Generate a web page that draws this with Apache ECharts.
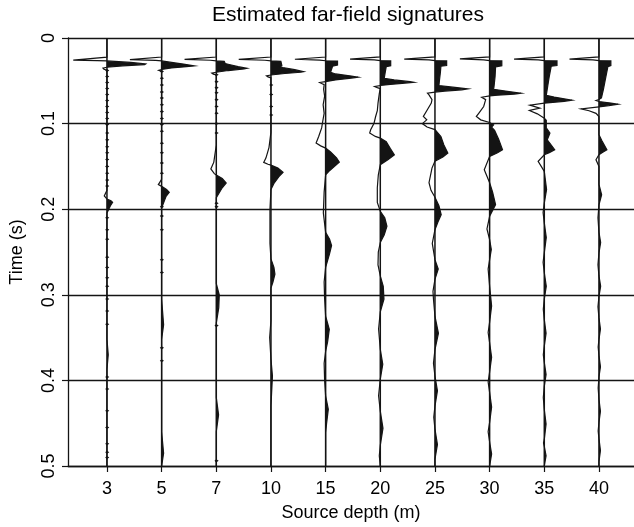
<!DOCTYPE html>
<html><head><meta charset="utf-8">
<script src="https://cdn.jsdelivr.net/npm/echarts@6/dist/echarts.min.js"></script>
<style>html,body{margin:0;padding:0;background:#fff}#c{width:634px;height:527px}</style>
</head><body><div id="c"></div>
<script>
// Source depths (m) -> trace labels
const depthLabels = ['3','5','7','10','15','20','25','30','35','40'];
// Time tick labels (s)
const timeTickLabels = ['0','0.1','0.2','0.3','0.4','0.5'];

// Far-field signatures: [time (s), relative amplitude]
const sig3 = [[0,0],[0.0223,0],[0.0258,-34],[0.0264,-10],[0.0268,0],[0.0285,24],[0.0303,39],[0.0310,38],[0.0325,16],[0.0342,0],[0.0352,-4],[0.0365,-3],[0.0375,0],[0.178,0],[0.1845,-2.7],[0.188,0],[0.190,4],[0.192,5.7],[0.196,3.5],[0.2043,0],[0.352,0],[0.370,1.3],[0.387,0],[0.5,0]];
const sig5 = [[0,0],[0.0222,0],[0.0252,-32],[0.0262,-6],[0.0268,0],[0.0285,10],[0.0305,22],[0.0326,33],[0.0335,25],[0.0350,10],[0.0368,0],[0.0378,-3],[0.0392,0],[0.1650,0],[0.1713,-3.3],[0.1733,0],[0.1770,5],[0.1803,7.7],[0.1850,4.5],[0.1985,0],[0.305,0],[0.335,2],[0.352,0],[0.460,0],[0.485,2],[0.5,0]];
const sig7 = [[0,0],[0.0222,0],[0.0250,-32],[0.0260,-6],[0.0268,0],[0.0272,8],[0.0298,9],[0.0310,13],[0.0335,22],[0.0355,31],[0.0362,28],[0.0380,12],[0.0400,0],[0.0410,-4.5],[0.0422,-3],[0.0432,0],[0.125,0],[0.145,-2.5],[0.153,-5.5],[0.1585,-2],[0.1600,0],[0.1640,6],[0.1694,10],[0.1750,6],[0.1866,0],[0.287,0],[0.300,3],[0.315,2.5],[0.333,0],[0.420,0],[0.440,2.3],[0.460,0],[0.5,0]];
const sig10 = [[0,0],[0.0222,0],[0.0250,-32.5],[0.0260,-6],[0.0268,0],[0.0272,10],[0.0320,11],[0.0334,9],[0.0345,12],[0.0370,24],[0.0393,33],[0.0400,30],[0.0415,14],[0.0432,0],[0.0443,-4.5],[0.0455,-3],[0.0465,0],[0.110,0],[0.128,-2],[0.140,-5],[0.1453,-7.3],[0.1475,-3],[0.1485,0],[0.1520,7],[0.1570,12.2],[0.1620,8],[0.1700,3],[0.1770,0],[0.200,-1],[0.240,-1],[0.258,0],[0.268,3],[0.276,4],[0.285,2],[0.292,0],[0.330,0],[0.350,-1.3],[0.375,0],[0.395,1.5],[0.430,0],[0.5,0]];
const sig15 = [[0,0],[0.0222,0],[0.0248,-31],[0.0258,-6],[0.0266,0],[0.0270,12],[0.0315,12],[0.0330,7],[0.0400,5],[0.0420,10],[0.0445,26],[0.0458,32.7],[0.0468,26],[0.0490,10],[0.0509,0],[0.0520,-6],[0.0532,-4],[0.0545,-1.5],[0.060,-2],[0.068,-1],[0.078,-2.5],[0.088,-1.5],[0.098,-3],[0.105,-4],[0.115,-7],[0.1228,-9.6],[0.1260,-5],[0.1286,0],[0.1330,5],[0.1400,11],[0.1449,13.8],[0.1500,9],[0.1560,3],[0.1600,0],[0.180,-1.5],[0.2044,-2.3],[0.227,0],[0.235,4],[0.2424,6],[0.252,4],[0.268,0],[0.285,-1.5],[0.305,-1],[0.325,0],[0.3403,3.7],[0.355,2],[0.366,0],[0.380,-1.5],[0.400,-1],[0.418,0],[0.4336,2.7],[0.450,1],[0.461,0],[0.5,0]];
const sig20 = [[0,0],[0.0220,0],[0.0246,-30.5],[0.0256,-6],[0.0264,0],[0.0268,10.5],[0.0325,10.5],[0.0335,6],[0.0400,5],[0.0470,4],[0.0490,14],[0.0510,30],[0.0517,33.7],[0.0527,25],[0.0542,10],[0.0555,0],[0.0567,-5.7],[0.0580,-3],[0.0592,0],[0.0650,-1],[0.0761,-2.3],[0.0850,-3],[0.0917,-4.7],[0.0995,-6.3],[0.1072,-9.7],[0.1110,-10.7],[0.1150,-5],[0.1170,0],[0.1210,6],[0.1290,10],[0.1364,14.2],[0.1420,8],[0.1480,0],[0.1600,-2],[0.1750,-3],[0.1920,-3],[0.2025,0],[0.2100,4.5],[0.2199,6.7],[0.2300,4],[0.2390,0],[0.2500,-2],[0.2650,-2.3],[0.2780,0],[0.2900,3],[0.3050,3.7],[0.3200,0],[0.3400,-1.7],[0.3636,0],[0.3810,2.5],[0.3986,0],[0.4180,-1.7],[0.4360,0],[0.4560,2.7],[0.4760,0],[0.4880,-1],[0.5,0]];
const sig25 = [[0,0],[0.0220,0],[0.0246,-31],[0.0256,-6],[0.0264,0],[0.0268,11.8],[0.0322,11.8],[0.0330,6],[0.0400,5.5],[0.0500,4.5],[0.0555,4],[0.0575,18],[0.0594,33],[0.0605,27],[0.0620,10],[0.0632,0],[0.0645,-7.5],[0.0664,-6],[0.0720,-3],[0.0761,-3.7],[0.0839,-7.7],[0.0917,-11.7],[0.0956,-8.3],[0.1000,-12.7],[0.1040,-8],[0.1070,0],[0.1150,6],[0.1250,9],[0.1344,13],[0.1390,8],[0.1438,0],[0.1520,-3],[0.1690,-6],[0.1780,-4],[0.1860,0],[0.1960,4],[0.2063,6.3],[0.2150,3],[0.2240,0],[0.2400,-2.7],[0.2590,0],[0.2700,3.3],[0.2820,0],[0.2960,-2],[0.3050,-1.5],[0.3250,0],[0.3450,3.5],[0.3640,0],[0.3800,-1.5],[0.3950,0],[0.4120,2.5],[0.4300,0],[0.4430,-1.2],[0.4570,0],[0.4750,2.5],[0.4920,0],[0.5,0]];
const sig30 = [[0,0],[0.0220,0],[0.0245,-30],[0.0256,-6],[0.0264,0],[0.0268,12.3],[0.0325,12.3],[0.0338,6],[0.0450,5.5],[0.0560,4.5],[0.0600,4],[0.0620,16],[0.0645,31.6],[0.0655,25],[0.0668,8],[0.0676,0],[0.0692,-8],[0.0720,-4],[0.0800,-6],[0.0880,-11],[0.0917,-13.4],[0.0956,-9],[0.0987,0],[0.1014,4],[0.1040,2],[0.1080,5],[0.1180,9],[0.1305,13],[0.1340,8],[0.1383,0],[0.1538,-5.4],[0.1690,0],[0.1800,3],[0.1946,6],[0.2083,0],[0.2230,-2.7],[0.2354,0],[0.2470,1.7],[0.2590,0],[0.2700,-1.5],[0.2900,0],[0.3130,2],[0.3320,0],[0.3440,-1.5],[0.3560,0],[0.3730,2],[0.3900,0],[0.4020,-1.5],[0.4140,0],[0.4310,2],[0.4490,0],[0.4600,-1.5],[0.4720,0],[0.4860,2],[0.5,0]];
const sig35 = [[0,0],[0.0220,0],[0.0246,-30.5],[0.0256,-6],[0.0264,0],[0.0268,12.8],[0.0322,12.8],[0.0330,7],[0.0450,5],[0.0560,3.5],[0.0670,2],[0.0690,10],[0.0726,28],[0.0740,20],[0.0761,0],[0.0785,-14.5],[0.0820,-4.5],[0.0847,-15],[0.0886,-7],[0.0936,0],[0.0960,2],[0.1050,2],[0.1110,5.7],[0.1189,3],[0.1250,7],[0.1305,10.5],[0.1340,5],[0.1364,0],[0.1442,-6.2],[0.1520,-2],[0.1560,0],[0.1770,2.3],[0.1930,0],[0.2040,-1.2],[0.2160,0],[0.2330,2],[0.2510,0],[0.2620,-1.2],[0.2740,0],[0.2900,2],[0.3050,0],[0.3170,-1],[0.3290,0],[0.3450,1.8],[0.3600,0],[0.3700,-1],[0.3790,0],[0.3930,1.8],[0.4070,0],[0.4200,-1],[0.4340,0],[0.4510,1.8],[0.4690,0],[0.4730,-0.8],[0.4770,0],[0.4880,1.8],[0.5,0]];
const sig40 = [[0,0],[0.0220,0],[0.0246,-29.7],[0.0256,-6],[0.0264,0],[0.0268,12],[0.0322,12],[0.0335,9],[0.0450,7],[0.0600,4.5],[0.0700,2.5],[0.0718,0],[0.0730,-3],[0.0742,0],[0.0760,12],[0.0773,19.3],[0.0790,10],[0.0805,0],[0.0828,-18],[0.0850,-10],[0.0880,-3],[0.0917,0],[0.1130,0],[0.1200,3],[0.1305,8],[0.1340,3],[0.1364,0],[0.1422,-3],[0.1500,0],[0.1710,0],[0.1830,2.7],[0.1950,0],[0.2100,-1],[0.2270,0],[0.2390,1.7],[0.2510,0],[0.2650,-1],[0.2780,0],[0.2900,1.7],[0.3020,0],[0.3140,-1],[0.3270,0],[0.3400,1.5],[0.3520,0],[0.3610,-0.8],[0.3710,0],[0.3840,1.5],[0.3960,0],[0.4090,-0.8],[0.4220,0],[0.4360,1.5],[0.4490,0],[0.4590,-0.8],[0.4680,0],[0.4820,1.5],[0.4950,0],[0.5,0]];

// Small high-frequency "beads" seen on the shallow traces (times, s)
const beads3 = [0.038,0.045,0.052,0.059,0.066,0.073,0.080,0.087,0.094,0.101,0.111,0.119,0.127,0.134,0.142,0.150,0.158,0.166,0.173,0.210,0.224,0.235,0.256,0.268,0.280,0.290,0.305,0.319,0.3345,0.396,0.410,0.4355,0.455,0.474,0.484,0.490];
const beads5 = [0.039,0.047,0.055,0.063,0.070,0.078,0.086,0.094,0.101,0.109,0.123,0.134,0.146,0.158,0.197,0.208,0.224,0.259,0.274,0.362,0.377];
const beads7 = [0.043,0.051,0.058,0.064,0.072,0.080,0.088,0.100,0.111,0.193,0.197,0.336,0.494];
const beads10 = [0.055,0.066,0.080,0.090];

const traces = [sig3, sig5, sig7, sig10, sig15, sig20, sig25, sig30, sig35, sig40];
const beads = [beads3, beads5, beads7, beads10, [], [], [], [], [], []];

const GAIN = 1 / 55.15;   // amplitude unit -> trace spacing
const INK = '#141414';
const FONT = 'Liberation Sans, Arial, Helvetica, sans-serif';

function renderTrace(params, api) {
  const k = params.dataIndex;
  const sig = traces[k];
  const P = (a, t) => api.coord([k + a * GAIN, t]);
  const children = [];
  const b0 = api.coord([k, 0]), b1 = api.coord([k, 0.5]);
  children.push({ type: 'line', shape: { x1: b0[0], y1: b0[1], x2: b1[0], y2: b1[1] },
    style: { stroke: INK, lineWidth: 1.5 } });
  const poly = [P(0, sig[0][0])];
  for (let i = 0; i < sig.length; i++) {
    const t = sig[i][0], a = sig[i][1];
    if (i > 0) {
      const tp = sig[i - 1][0], ap = sig[i - 1][1];
      if ((ap > 0 && a < 0) || (ap < 0 && a > 0)) {
        poly.push(P(0, tp + (t - tp) * ap / (ap - a)));
      }
    }
    poly.push(P(Math.max(a, 0), t));
  }
  poly.push(P(0, sig[sig.length - 1][0]));
  children.push({ type: 'polygon', shape: { points: poly }, style: { fill: INK } });
  children.push({ type: 'polyline', shape: { points: sig.map(d => P(d[1], d[0])) },
    style: { stroke: INK, lineWidth: 1.2, fill: null } });
  for (const tb of beads[k]) {
    children.push({ type: 'polygon',
      shape: { points: [P(0, tb - 0.0018), P(2.4, tb), P(0, tb + 0.0018), P(-1.8, tb)] },
      style: { fill: INK } });
  }
  return { type: 'group', children };
}

const chart = echarts.init(document.getElementById('c'), null, { renderer: 'canvas' });
const traceIdx = depthLabels.map((d, i) => i);
chart.setOption({
  animation: false,
  backgroundColor: '#fff',
  title: {
    text: 'Estimated far-field signatures', left: 343, top: 0, textAlign: 'center',
    textStyle: { fontSize: 21, fontWeight: 'normal', color: '#000', fontFamily: FONT }
  },
  grid: { left: 64, top: 38, right: -1, bottom: 59.5, containLabel: false },
  xAxis: {
    type: 'value', min: -0.7126, max: 9.641,
    name: 'Source depth (m)', nameLocation: 'middle', nameGap: 38,
    nameTextStyle: { fontSize: 18, color: '#000', fontFamily: FONT },
    axisLine: { show: true, onZero: false, lineStyle: { color: INK, width: 1.3 } },
    axisTick: { show: true, inside: false, length: 6, customValues: traceIdx, lineStyle: { color: INK, width: 1.2 } },
    axisLabel: { customValues: traceIdx, margin: 14, fontSize: 18, color: '#000', fontFamily: FONT,
      formatter: v => depthLabels[Math.round(v)] },
    splitLine: { show: false }
  },
  yAxis: {
    type: 'value', inverse: true, min: 0, max: 0.5, interval: 0.1,
    name: 'Time (s)', nameLocation: 'middle', nameGap: 42, nameRotate: 90,
    nameTextStyle: { fontSize: 18, color: '#000', fontFamily: FONT },
    axisLine: { show: true, onZero: false, lineStyle: { color: INK, width: 1.3 } },
    axisTick: { show: true, inside: false, length: 6, lineStyle: { color: INK, width: 1.2 } },
    axisLabel: { rotate: 90, margin: 10, fontSize: 18, color: '#000', fontFamily: FONT,
      formatter: v => timeTickLabels[Math.round(v * 10)] },
    splitLine: { show: true, lineStyle: { color: INK, width: 1.3 } }
  },
  series: [{
    type: 'custom', renderItem: renderTrace, clip: true,
    data: traceIdx.map(i => [i, 0.25]), silent: true
  }]
});
</script></body></html>
